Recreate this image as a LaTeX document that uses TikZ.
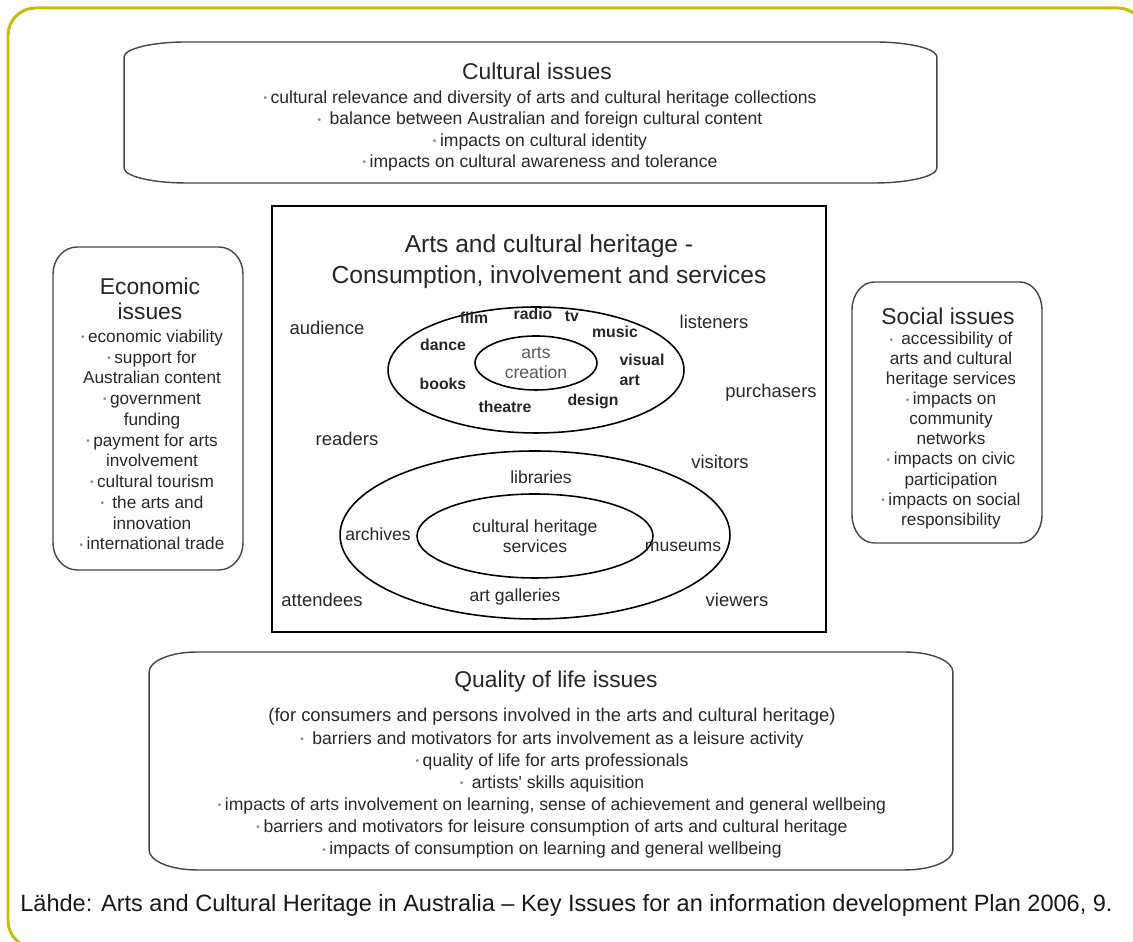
\documentclass[tikz,border=0pt]{standalone}
\usepackage{fontspec}
\setmainfont{Liberation Sans}
\usepackage{xcolor}
\definecolor{framecolor}{RGB}{198,190,12}
\definecolor{inkcolor}{RGB}{40,40,40}
\definecolor{boxlinecolor}{RGB}{70,70,70}
\definecolor{bulletcolor}{RGB}{140,140,140}
\usetikzlibrary{shapes.geometric}
\newcommand{\bul}{{\color{bulletcolor}\raisebox{0.1em}{\scalebox{0.58}{\textbullet}}}\hspace{2pt}}
\newcommand{\issuebox}[3]{%
	\draw [issueline] ([yshift=-#3*0.02cm]#1.north west) arc [start angle=180, end angle=90, x radius=#2*0.02cm, y radius=#3*0.02cm] -- ([xshift=-#2*0.02cm]#1.north east) arc [start angle=90, end angle=0, x radius=#2*0.02cm, y radius=#3*0.02cm] -- ([yshift=#3*0.02cm]#1.south east) arc [start angle=0, end angle=-90, x radius=#2*0.02cm, y radius=#3*0.02cm] -- ([xshift=#2*0.02cm]#1.south west) arc [start angle=270, end angle=180, x radius=#2*0.02cm, y radius=#3*0.02cm] -- cycle;%
}

\begin{document}
\begin{tikzpicture}[x=0.02cm, y=0.02cm,
	issue/.style={inner sep=0pt, outer sep=0pt},
	issueline/.style={boxlinecolor, line width=0.8pt},
	boxtitle/.style={font=\fontsize{13}{14.2}\selectfont, text=black!85, align=center},
	boxbody/.style={text=inkcolor, align=center},
	who/.style={font=\fontsize{10.5}{12}\selectfont, text=inkcolor},
	artform/.style={font=\fontsize{9}{11}\selectfont\bfseries, text=black!85},
	ring/.style={ellipse, draw, line width=0.9pt, inner sep=0pt}]
	\useasboundingbox (0,0) rectangle (1133,942);
	\draw [framecolor, line width=1.7pt, rounded corners=0.55cm] (8,-6) rectangle (1145,934);
	% cultural issues
	\node [issue, minimum width=16.26cm, minimum height=2.82cm] (cultural) at (530.5,829.5) {};
	\issuebox{cultural}{62}{15}
	\node [boxtitle] (culturalT) at (537,871) {Cultural issues};
	\node [boxbody, font=\fontsize{10}{12.1}\selectfont] (culturalB) at (540,811) {\bul cultural relevance and diversity of arts and cultural heritage collections\\
		\bul\ balance between Australian and foreign cultural content\\
		\bul impacts on cultural identity\\
		\bul impacts on cultural awareness and tolerance};
	% economic issues
	\node [issue, minimum width=3.8cm, minimum height=6.46cm] (economic) at (148,533.5) {};
	\issuebox{economic}{24}{27}
	\node [boxtitle] (economicT) at (150,643.5) {Economic\\issues};
	\node [boxbody, font=\fontsize{9.8}{11.8}\selectfont] (economicB) at (152,502) {\bul economic viability\\
		\bul support for\\ Australian content\\
		\bul government\\ funding\\
		\bul payment for arts\\ involvement\\
		\bul cultural tourism\\
		\bul\ the arts and\\ innovation\\
		\bul international trade};
	% social issues
	\node [issue, minimum width=3.8cm, minimum height=5.22cm] (social) at (947,529.5) {};
	\issuebox{social}{22}{28}
	\node [boxtitle] (socialT) at (948,626) {Social issues};
	\node [boxbody, font=\fontsize{9.8}{11.4}\selectfont] (socialB) at (951,511.5) {\bul\ accessibility of\\ arts and cultural\\ heritage services\\
		\bul impacts on\\ community\\ networks\\
		\bul impacts on civic\\ participation\\
		\bul impacts on social\\ responsibility};
	% consumption, involvement and services
	\node [draw, line width=1.6pt, minimum width=11.08cm, minimum height=8.52cm, inner sep=0pt] (centre) at (549,523) {};
	\node [font=\fontsize{14}{17.6}\selectfont, align=center, text=black!85] (centreT) at (549,680.5) {Arts and cultural heritage -\\Consumption, involvement and services};
	\node [ring, minimum width=5.92cm, minimum height=2.52cm] (artsring) at (536,572) {};
	\node [ring, minimum width=2.44cm, minimum height=1.08cm, align=center, text=black!65, font=\fontsize{10}{11.3}\selectfont] (creation) at (536,579) {arts\\creation};
	\foreach \x/\y/\word in {474/624/film, 533/628/radio, 572/626/tv, 615/610/music, 443/597/dance, 443/558/books, 505/535/theatre, 593/541/design}
		\node [artform] (\word) at (\x,\y) {\word};
	\node [artform, align=left] (visualart) at (642,572) {visual\\art};
	\node [ring, minimum width=7.8cm, minimum height=3.36cm] (heritagering) at (535,407) {};
	\node [ring, minimum width=4.72cm, minimum height=1.68cm, align=center, text=inkcolor, font=\fontsize{10}{11.3}\selectfont] (heritage) at (535,406) {cultural heritage\\services};
	\node [who, font=\fontsize{10}{12}\selectfont] (libraries) at (541,465) {libraries};
	\node [who, font=\fontsize{10}{12}\selectfont] (archives) at (378,408) {archives};
	\node [who, font=\fontsize{10}{12}\selectfont] (museums) at (683,395) {museums};
	\node [who, font=\fontsize{10}{12}\selectfont] (galleries) at (515,345) {art galleries};
	\foreach \x/\y/\word in {327/614/audience, 714/620/listeners, 771/549/purchasers, 347/503/readers, 720/480/visitors, 322/342/attendees, 737/342/viewers}
		\node [who] (\word) at (\x,\y) {\word};
	% quality of life issues
	\node [issue, minimum width=16.08cm, minimum height=4.36cm] (quality) at (551,181) {};
	\issuebox{quality}{48}{20}
	\node [boxtitle] (qualityT) at (556,260) {Quality of life issues};
	\node [boxbody, font=\fontsize{10}{12.6}\selectfont] (qualityB) at (552,158.5) {{\fontsize{10.5}{12.6}\selectfont (for consumers and persons involved in the arts and cultural heritage)}\\
		\bul\ barriers and motivators for arts involvement as a leisure activity\\
		\bul quality of life for arts professionals\\
		\bul\ artists\textquotesingle\ skills aquisition\\
		\bul impacts of arts involvement on learning, sense of achievement and general wellbeing\\
		\bul barriers and motivators for leisure consumption of arts and cultural heritage\\
		\bul impacts of consumption on learning and general wellbeing};
	\node [anchor=west, inner sep=0pt, font=\fontsize{13.4}{16}\selectfont, text=black!90] (source) at (20,37) {Lähde: Arts and Cultural Heritage in Australia – Key Issues for an information development Plan 2006, 9.};
\end{tikzpicture}
\end{document}
